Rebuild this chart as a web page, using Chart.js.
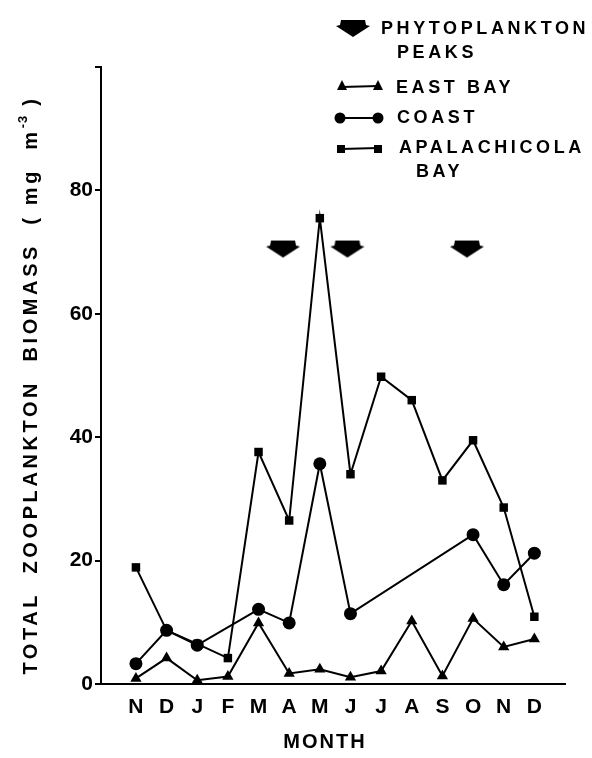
<!DOCTYPE html>
<html>
<head>
<meta charset="utf-8">
<script src="https://cdn.jsdelivr.net/npm/chart.js@4"></script>
<style>
  html, body { margin: 0; padding: 0; background: #fff; }
  #wrap { width: 592px; height: 758px; position: relative; }
</style>
</head>
<body>
<div id="wrap"><canvas id="grafico" width="592" height="758"></canvas></div>
<script>
// Dados
const meses = ['N', 'D', 'J', 'F', 'M', 'A', 'M', 'J', 'J', 'A', 'S', 'O', 'N', 'D'];
const eastBay = [0.9, 4.2, 0.6, 1.2, 9.9, 1.7, 2.4, 1.1, 2.1, 10.2, 1.3, 10.6, 6.0, 7.3];
const coast = [3.3, 8.7, 6.3, null, 12.1, 9.9, 35.7, 11.4, null, null, null, 24.2, 16.1, 21.2];
const apalachicola = [18.9, 8.7, 6.5, 4.2, 37.6, 26.5, 75.5, 34.0, 49.8, 46.0, 33.0, 39.5, 28.6, 10.9];
const picosMes = [4.8, 6.9, 10.8];
const picosNivel = [70.5, 70.5, 70.5];
const yTicks = [0, 20, 40, 60, 80, 100];

const FONTE = '"Liberation Sans", Arial, sans-serif';

function paraPontos(valores) {
    return valores.map((v, i) => ({ x: i, y: v }));
}

// Seta usada para os picos de fitoplâncton
function desenharSeta(ctx, cx, top) {
    ctx.beginPath();
    ctx.moveTo(cx - 12, top);
    ctx.lineTo(cx + 12, top);
    ctx.lineTo(cx + 13, top + 5);
    ctx.lineTo(cx + 17, top + 6);
    ctx.lineTo(cx, top + 17);
    ctx.lineTo(cx - 17, top + 6);
    ctx.lineTo(cx - 13, top + 5);
    ctx.closePath();
    ctx.fill();
}

const imgSeta = document.createElement('canvas');
imgSeta.width = 36;
imgSeta.height = 19;
(() => {
    const c = imgSeta.getContext('2d');
    c.fillStyle = '#000';
    desenharSeta(c, 18, 1);
})();

const pluginTextos = {
    id: 'textos',
    afterDraw(chart) {
        const ctx = chart.ctx;
        ctx.save();
        ctx.fillStyle = '#000';
        ctx.strokeStyle = '#000';
        ctx.textBaseline = 'middle';
        ctx.textAlign = 'left';
        ctx.font = 'bold 18px ' + FONTE;
        ctx.letterSpacing = '3.6px';

        // Legenda
        desenharSeta(ctx, 353, 20);
        ctx.fillText('PHYTOPLANKTON', 381, 29);
        ctx.fillText('PEAKS', 397, 53);

        ctx.lineWidth = 2;
        // east bay
        ctx.beginPath(); ctx.moveTo(342, 87); ctx.lineTo(378, 86); ctx.stroke();
        [342, 378].forEach(x => {
            ctx.beginPath();
            ctx.moveTo(x, 80); ctx.lineTo(x + 5, 90); ctx.lineTo(x - 5, 90); ctx.closePath(); ctx.fill();
        });
        ctx.fillText('EAST BAY', 396, 88);
        // coast
        ctx.beginPath(); ctx.moveTo(340, 118); ctx.lineTo(378, 118); ctx.stroke();
        [340, 378].forEach(x => {
            ctx.beginPath(); ctx.arc(x, 118, 5.5, 0, Math.PI * 2); ctx.fill();
        });
        ctx.fillText('COAST', 397, 118);
        // apalachicola
        ctx.beginPath(); ctx.moveTo(341, 149); ctx.lineTo(378, 148); ctx.stroke();
        [341, 378].forEach(x => ctx.fillRect(x - 4, 145, 8, 8));
        ctx.fillText('APALACHICOLA', 399, 148);
        ctx.fillText('BAY', 416, 172);

        // Título do eixo X
        ctx.font = 'bold 20px ' + FONTE;
        ctx.letterSpacing = '2px';
        ctx.textAlign = 'center';
        ctx.fillText('MONTH', 325, 742);

        // Título do eixo Y (com expoente)
        ctx.translate(31, 385);
        ctx.rotate(-Math.PI / 2);
        ctx.textAlign = 'left';
        const parte1 = 'TOTAL  ZOOPLANKTON  BIOMASS  ( mg  m';
        const sup = '-3';
        const parte2 = ' )';
        const grande = () => { ctx.font = 'bold 20px ' + FONTE; ctx.letterSpacing = '3.6px'; };
        const pequena = () => { ctx.font = 'bold 13px ' + FONTE; ctx.letterSpacing = '1px'; };
        grande();
        const w1 = ctx.measureText(parte1).width;
        const w3 = ctx.measureText(parte2).width;
        pequena();
        const w2 = ctx.measureText(sup).width;
        const x = -(w1 + w2 + w3) / 2;
        grande();
        ctx.fillText(parte1, x, 0);
        pequena();
        ctx.fillText(sup, x + w1, -8);
        grande();
        ctx.fillText(parte2, x + w1 + w2, 0);
        ctx.restore();
    }
};

function serie(label, valores, estilo, raio) {
    return {
        label,
        data: paraPontos(valores),
        borderColor: '#000',
        backgroundColor: '#000',
        borderWidth: 2,
        pointStyle: estilo,
        pointRadius: raio,
        pointBorderWidth: 0,
        spanGaps: true,
        tension: 0
    };
}

const config = {
    type: 'line',
    data: {
        datasets: [
            serie('East Bay', eastBay, 'triangle', 6.5),
            serie('Coast', coast, 'circle', 6.5),
            serie('Apalachicola Bay', apalachicola, 'rect', 6),
            {
                label: 'Phytoplankton peaks',
                data: picosMes.map((m, i) => ({ x: m, y: picosNivel[i] })),
                showLine: false,
                pointStyle: imgSeta,
                pointRadius: 10
            }
        ]
    },
    options: {
        responsive: false,
        animation: false,
        layout: { padding: { top: 67, right: 27, left: 0, bottom: 0 } },
        plugins: {
            legend: { display: false },
            tooltip: { enabled: false }
        },
        scales: {
            x: {
                type: 'linear',
                min: -1.14,
                max: 14,
                afterBuildTicks: s => { s.ticks = meses.map((m, i) => ({ value: i })); },
                afterFit: s => { s.height = 74; },
                border: { display: true, color: '#000', width: 2 },
                grid: { display: false, drawTicks: false },
                ticks: {
                    color: '#000',
                    padding: 11,
                    autoSkip: false,
                    maxRotation: 0,
                    font: { family: FONTE, size: 21, weight: 'bold' },
                    callback: v => meses[v]
                }
            },
            y: {
                min: 0,
                max: 100,
                afterBuildTicks: s => { s.ticks = yTicks.map(v => ({ value: v })); },
                afterFit: s => { s.width = 101; },
                border: { display: true, color: '#000', width: 2 },
                grid: { drawOnChartArea: false, color: '#000', lineWidth: 2, tickLength: 6 },
                ticks: {
                    color: '#000',
                    padding: 2,
                    font: { family: FONTE, size: 21, weight: 'bold' },
                    callback: v => (v === 100 ? '' : v)
                }
            }
        }
    },
    plugins: [pluginTextos]
};

const graficoAtual = new Chart(document.getElementById('grafico').getContext('2d'), config);
</script>
</body>
</html>
